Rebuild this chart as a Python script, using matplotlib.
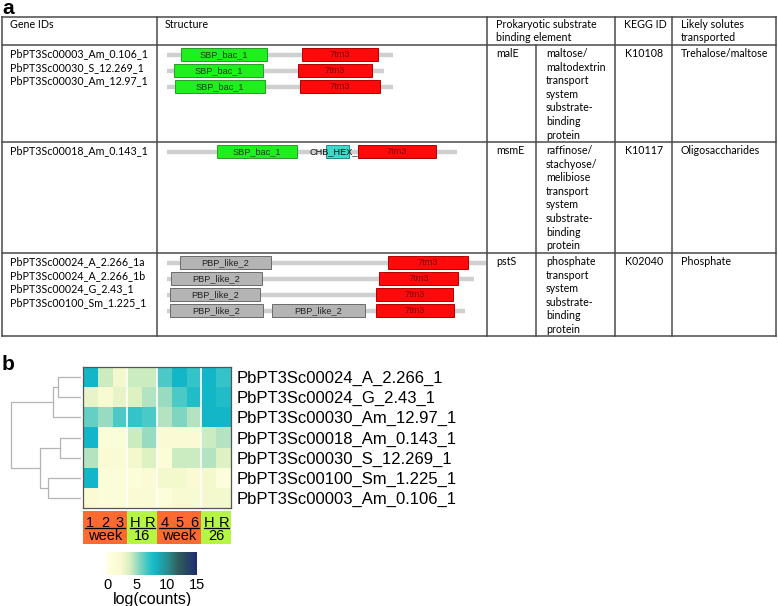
import numpy as np
import matplotlib

matplotlib.use("Agg")
import matplotlib.pyplot as plt  # noqa: E402
from matplotlib.colors import LinearSegmentedColormap  # noqa: E402
from matplotlib.patches import Rectangle  # noqa: E402

W, H = 778, 606
TABLE_FONT = ["Lato", "DejaVu Sans"]
ARIAL = ["Liberation Sans", "DejaVu Sans"]

# ---------------- panel a: table data ----------------
HEADERS = ["Gene IDs", "Structure", "Prokaryotic substrate\nbinding element",
           "KEGG ID", "Likely solutes\ntransported"]
ROW_GENES = [
    ["PbPT3Sc00003_Am_0.106_1", "PbPT3Sc00030_S_12.269_1", "PbPT3Sc00030_Am_12.97_1"],
    ["PbPT3Sc00018_Am_0.143_1"],
    ["PbPT3Sc00024_A_2.266_1a", "PbPT3Sc00024_A_2.266_1b",
     "PbPT3Sc00024_G_2.43_1", "PbPT3Sc00100_Sm_1.225_1"],
]
ROW_ELEMENT = ["malE", "msmE", "pstS"]
ROW_DESC = [
    ["maltose/", "maltodextrin", "transport", "system", "substrate-", "binding", "protein"],
    ["raffinose/", "stachyose/", "melibiose", "transport", "system", "substrate-",
     "binding", "protein"],
    ["phosphate", "transport", "system", "substrate-", "binding", "protein"],
]
ROW_KEGG = ["K10108", "K10117", "K02040"]
ROW_SOLUTES = ["Trehalose/maltose", "Oligosaccharides", "Phosphate"]

# protein length and domains (name, start, end) for each gene, per table row
PROT_LEN = [[678, 651, 678], [870], [957, 921, 858, 894]]
DOMAINS = [
    [[("SBP_bac_1", 42, 300), ("7tm3", 405, 633)],
     [("SBP_bac_1", 21, 288), ("7tm3", 393, 615)],
     [("SBP_bac_1", 24, 294), ("7tm3", 399, 639)]],
    [[("SBP_bac_1", 150, 390), ("CHB_HEX_C", 477, 546), ("7tm3", 573, 807)]],
    [[("PBP_like_2", 39, 312), ("7tm3", 663, 903)],
     [("PBP_like_2", 12, 285), ("7tm3", 636, 873)],
     [("PBP_like_2", 9, 279), ("7tm3", 627, 858)],
     [("PBP_like_2", 9, 288), ("PBP_like_2", 315, 594), ("7tm3", 627, 861)]],
]
DOMAIN_STYLE = {
    "SBP_bac_1": ("#1ef01e", "#2a9a2a", "#1a3a1a", 2),
    "7tm3": ("#ff0a0a", "#b00000", "#7a0000", 4),
    "PBP_like_2": ("#b4b4b4", "#6a6a6a", "#222222", 2),
    "CHB_HEX_C": ("#40d8c8", "#2a8a8a", "#111111", 2),
}

# ---------------- panel b: heatmap data ----------------
HM_GENES = ["PbPT3Sc00024_A_2.266_1", "PbPT3Sc00024_G_2.43_1", "PbPT3Sc00030_Am_12.97_1",
            "PbPT3Sc00018_Am_0.143_1", "PbPT3Sc00030_S_12.269_1", "PbPT3Sc00100_Sm_1.225_1",
            "PbPT3Sc00003_Am_0.106_1"]
SAMPLES = ["1", "2", "3", "H", "R", "4", "5", "6", "H", "R"]
GROUPS = ["week", "16", "week", "26"]
GROUP_SIZE = [3, 2, 3, 2]
GROUP_COLOR = ["#ff6a30", "#b4f545", "#ff6a30", "#b4f545"]
LOG_COUNTS = np.array([
    [8.0, 4.0, 2.5, 4.0, 4.0, 6.5, 8.0, 7.0, 8.0, 7.0],
    [3.0, 2.0, 3.0, 3.5, 4.5, 5.0, 6.5, 7.5, 8.0, 7.5],
    [6.0, 5.0, 6.5, 7.0, 6.5, 4.5, 5.5, 4.5, 8.0, 8.0],
    [8.0, 1.0, 1.0, 4.0, 5.0, 1.5, 1.5, 1.5, 4.0, 4.5],
    [4.5, 1.5, 1.5, 2.5, 3.5, 1.0, 4.0, 4.0, 4.5, 3.5],
    [8.0, 1.0, 1.0, 1.0, 1.5, 2.5, 2.5, 1.5, 2.5, 0.8],
    [1.5, 1.0, 1.0, 1.5, 1.5, 0.5, 2.0, 2.0, 2.5, 2.5],
])
# row dendrogram, scipy-like: clusters >= 7 are earlier merges
LINK_A = [0, 3, 5, 7, 8, 10]
LINK_B = [1, 4, 6, 2, 9, 11]
LINK_H = [23, 21, 33, 28, 41, 70]

CMAP = LinearSegmentedColormap.from_list(
    "lc", [(0.0, "#ffffe0"), (0.15, "#f8fad0"), (0.25, "#d8efc0"), (0.35, "#8cd8c0"),
           (0.45, "#3cc6c8"), (0.53, "#12b8c8"), (0.68, "#2a8a8c"), (0.8, "#2f5c5a"),
           (1.0, "#1f2c70")])


def px_axes(fig, x0, y0, x1, y1):
    return fig.add_axes([x0 / W, 1 - y1 / H, (x1 - x0) / W, (y1 - y0) / H])


fig = plt.figure(figsize=(W / 100, H / 100), dpi=100)
ax = px_axes(fig, 0, 0, W, H)
ax.set_xlim(0, W)
ax.set_ylim(H, 0)
ax.axis("off")

# --- table grid ---
col_x = [2, 157, 487, 615, 672, 776]
row_y = [17, 45, 142, 253, 336]
lc = "#4a4a4a"
for y in row_y:
    ax.plot([col_x[0], col_x[-1]], [y, y], color=lc, lw=1.1)
for x in col_x:
    ax.plot([x, x], [row_y[0], row_y[-1]], color=lc, lw=1.1)
ax.plot([536, 536], [row_y[1], row_y[-1]], color=lc, lw=1.1)

fs = 7.7
lh = 13.6
head_x = [10, 165, 496, 624, 681]
for x, t in zip(head_x, HEADERS):
    for j, line in enumerate(t.split("\n")):
        ax.text(x, 24 + j * lh, line, fontsize=fs, family=TABLE_FONT, va="center")

for r in range(3):
    top = row_y[r + 1] + 8.5
    for j, g in enumerate(ROW_GENES[r]):
        ax.text(10, top + j * lh, g, fontsize=fs, family=TABLE_FONT, va="center")
    ax.text(496, top, ROW_ELEMENT[r], fontsize=fs, family=TABLE_FONT, va="center")
    for j, d in enumerate(ROW_DESC[r]):
        ax.text(546, top + j * lh, d, fontsize=fs, family=TABLE_FONT, va="center")
    ax.text(625, top, ROW_KEGG[r], fontsize=fs, family=TABLE_FONT, va="center")
    ax.text(681, top, ROW_SOLUTES[r], fontsize=fs, family=TABLE_FONT, va="center")

# --- domain structures ---
sax = px_axes(fig, 157, 45, 487, 336)
sax.set_xlim(-30, 960)
sax.set_ylim(336, 45)
sax.axis("off")
box_h = 12.5
for r in range(3):
    for j, (plen, doms) in enumerate(zip(PROT_LEN[r], DOMAINS[r])):
        yc = row_y[r + 1] + 9.5 + j * 16
        sax.plot([0, plen], [yc, yc], color="#cfcfcf", lw=3.2, solid_capstyle="butt", zorder=1)
        for name, s, e in doms:
            fc, ec, tc, z = DOMAIN_STYLE[name]
            sax.add_patch(Rectangle((s, yc - box_h / 2), e - s, box_h, facecolor=fc,
                                    edgecolor=ec, lw=0.7, zorder=z))
            sax.text((s + e) / 2, yc, name, fontsize=6.6, family=ARIAL, color=tc,
                     ha="center", va="center", zorder=z + 1)

ax.text(2, 8, "a", fontsize=15, fontweight="bold", family=ARIAL, va="center")
ax.text(2, 365, "b", fontsize=15, fontweight="bold", family=ARIAL, va="center")

# --- heatmap ---
hax = px_axes(fig, 83, 367, 231, 508)
im = hax.imshow(LOG_COUNTS, cmap=CMAP, vmin=0, vmax=15, aspect="auto",
                interpolation="nearest")
for b in np.cumsum(GROUP_SIZE)[:-1]:
    hax.axvline(b - 0.5, color="white", lw=1.2)
hax.set_xticks([])
hax.yaxis.tick_right()
hax.set_yticks(range(len(HM_GENES)))
hax.set_yticklabels(HM_GENES, fontsize=12, family=ARIAL)
hax.tick_params(axis="y", length=0, pad=4)
for sp in hax.spines.values():
    sp.set_color("#555555")
    sp.set_linewidth(0.9)

# --- dendrogram ---
dax = px_axes(fig, 8, 367, 81, 508)
dax.set_ylim(len(HM_GENES) - 0.5, -0.5)
dax.set_xlim(-73, 0)
dax.axis("off")
ypos = {i: float(i) for i in range(len(HM_GENES))}
hgt = {i: 0.0 for i in range(len(HM_GENES))}
for k, (a, b, h) in enumerate(zip(LINK_A, LINK_B, LINK_H)):
    dax.plot([-hgt[a], -h, -h, -hgt[b]], [ypos[a], ypos[a], ypos[b], ypos[b]],
             color="#b4b4b4", lw=0.9)
    ypos[len(HM_GENES) + k] = (ypos[a] + ypos[b]) / 2
    hgt[len(HM_GENES) + k] = h

# --- column annotation ---
aax = px_axes(fig, 83, 511, 231, 544)
aax.set_xlim(-0.5, len(SAMPLES) - 0.5)
aax.set_ylim(1, 0)
aax.axis("off")
col_colors = np.repeat(GROUP_COLOR, GROUP_SIZE)
aax.bar(range(len(SAMPLES)), 1, width=1.0, bottom=0, color=col_colors, align="center")
for i, s in enumerate(SAMPLES):
    aax.text(i, 0.36, s, fontsize=10.5, family=ARIAL, ha="center", va="center")
start = 0
for g, n in zip(GROUPS, GROUP_SIZE):
    aax.plot([start - 0.35, start + n - 0.65], [0.53, 0.53], color="black", lw=0.9)
    aax.text(start + (n - 1) / 2, 0.77, g, fontsize=10.5, family=ARIAL, ha="center", va="center")
    start += n

# --- colorbar ---
cax = px_axes(fig, 107, 552, 197, 575)
cb = fig.colorbar(im, cax=cax, orientation="horizontal", ticks=[0, 5, 10, 15])
cb.outline.set_visible(False)
cax.tick_params(length=0, labelsize=10.5, pad=2)
for t in cax.get_xticklabels():
    t.set_family(ARIAL)
cb.set_label("log(counts)", fontsize=11.5, family=ARIAL, labelpad=0)

fig.savefig("out.png", dpi=100)
